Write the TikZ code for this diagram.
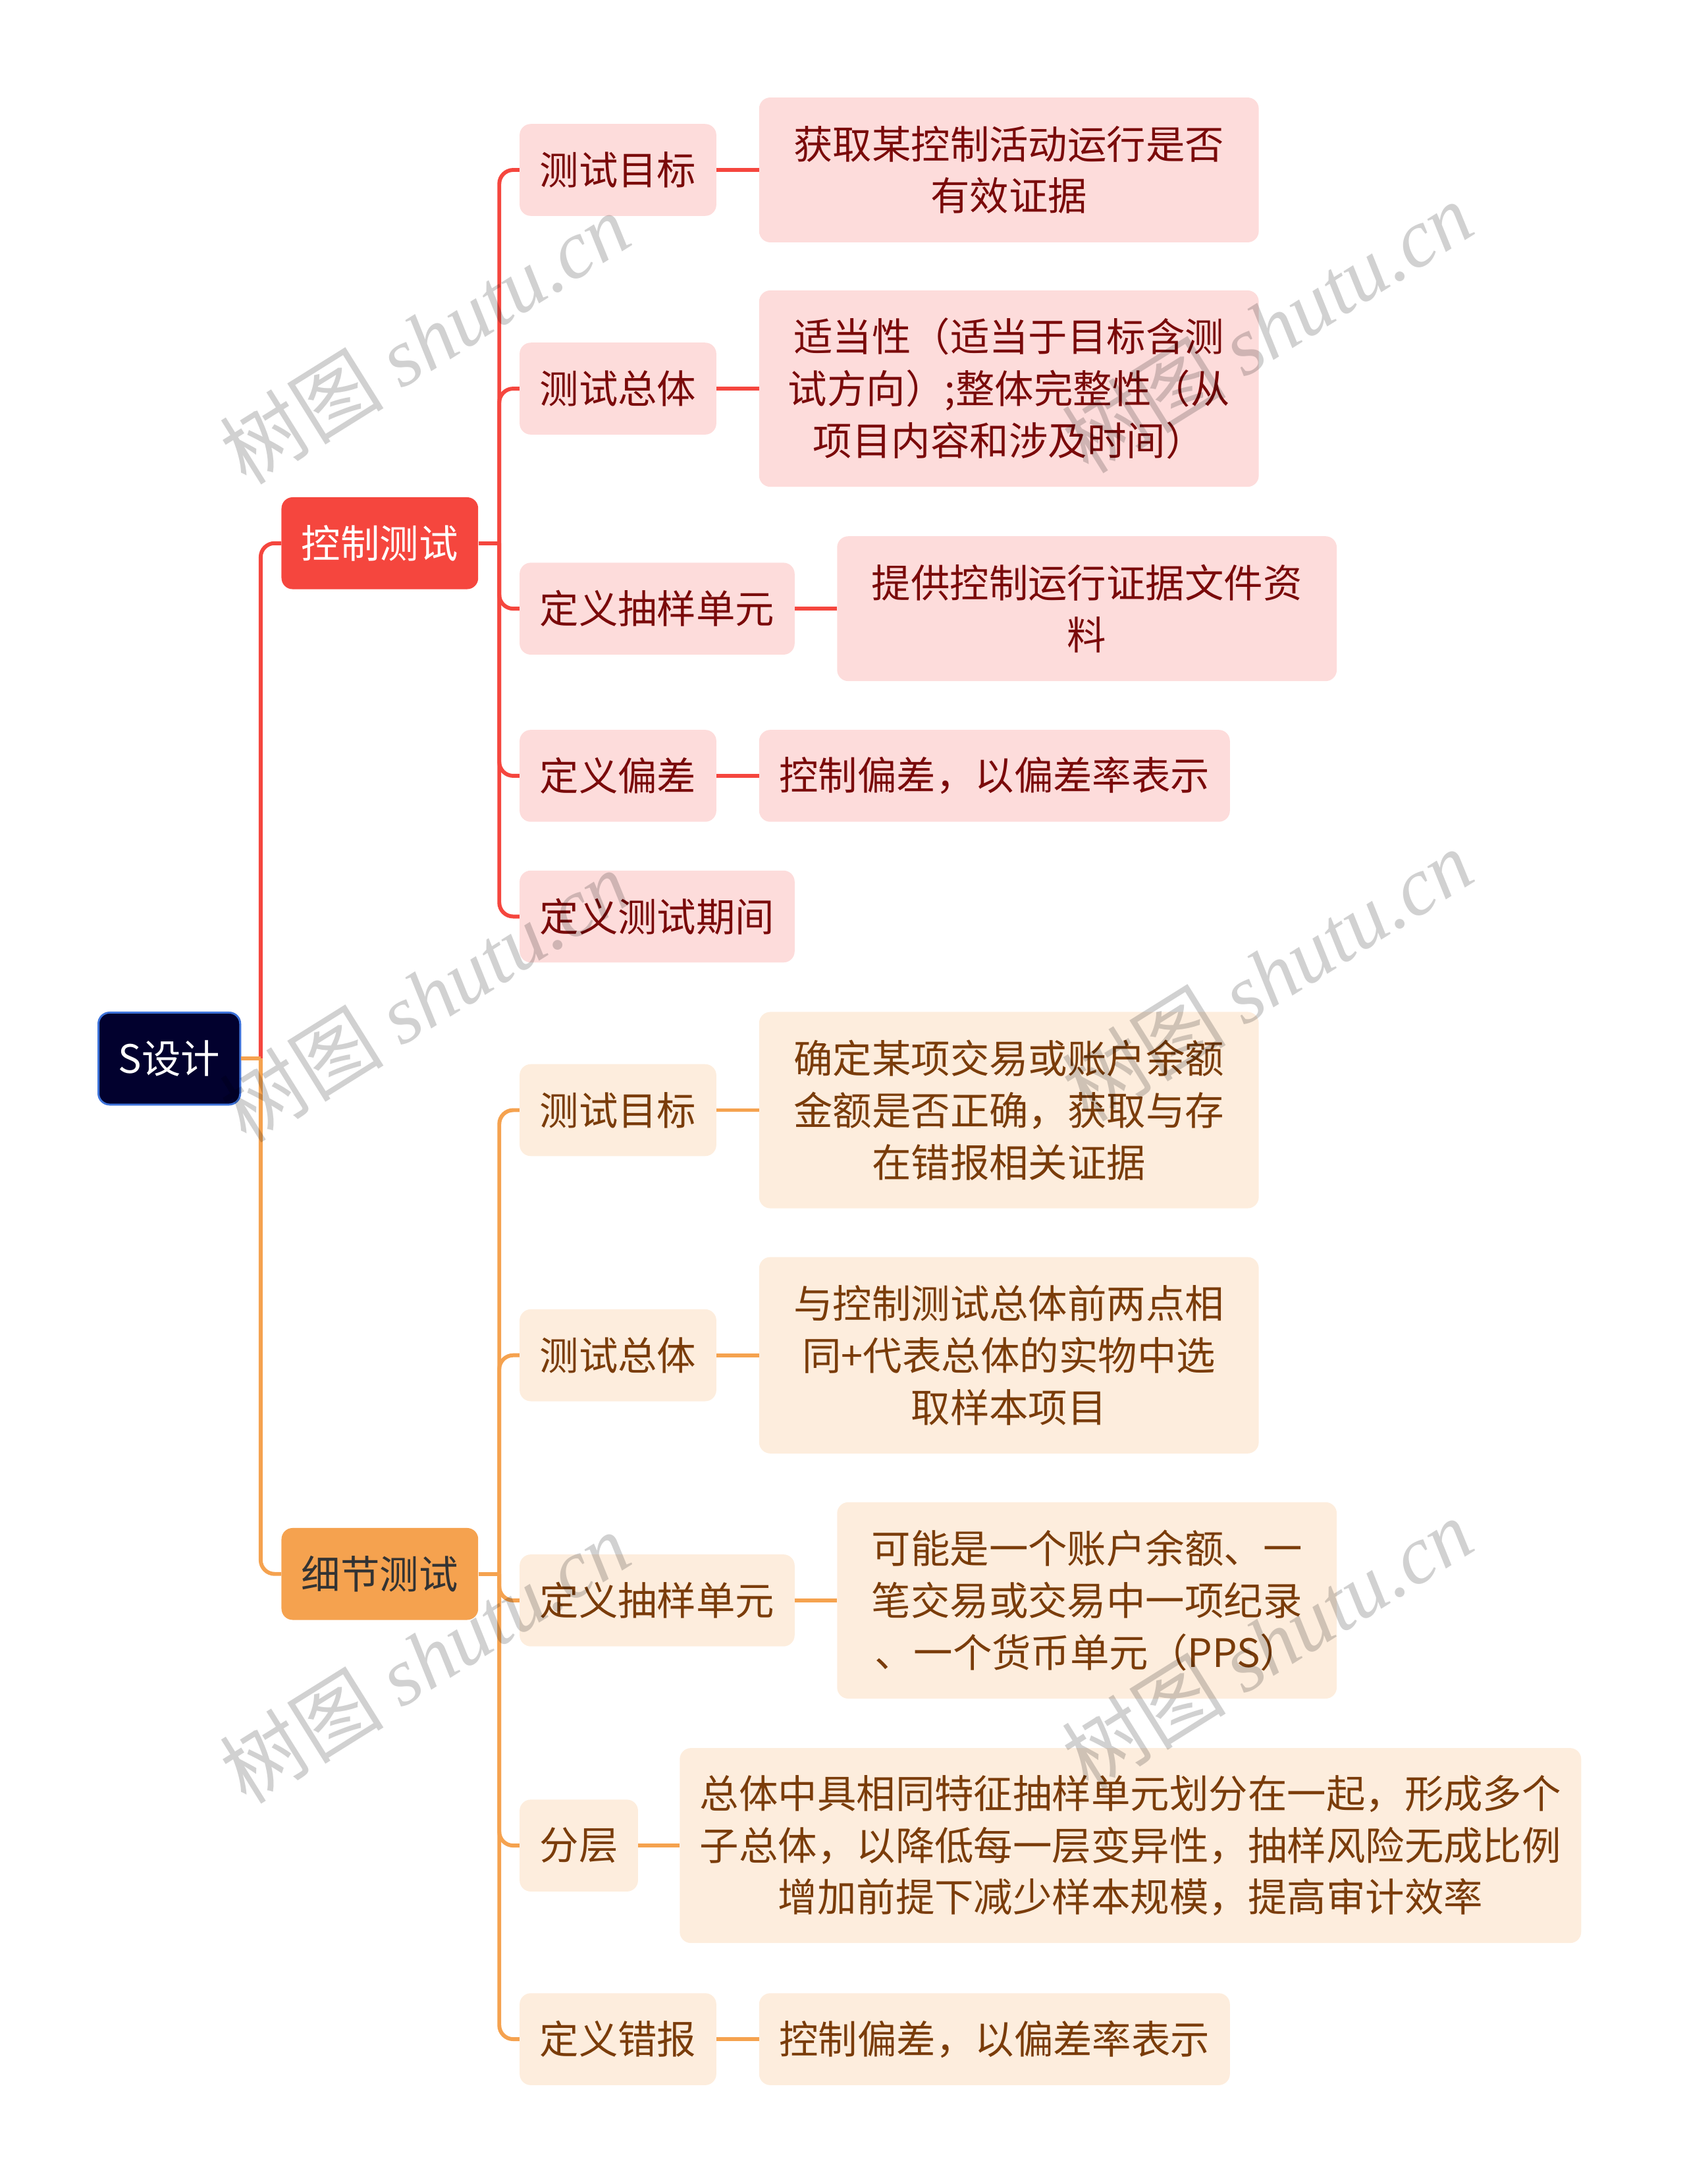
\documentclass[tikz,border=0pt]{standalone}
\usepackage{fontspec}
\setmainfont{Noto Sans CJK SC}
\newfontfamily\wmserif{Liberation Serif}
\usepackage{tikz}
\usetikzlibrary{positioning}
\usepackage{xcolor}

\definecolor{rootfill}{HTML}{02012E}
\definecolor{rootedge}{HTML}{3D72D9}
\definecolor{ctrlred}{HTML}{F5463E}
\definecolor{ctrlpink}{HTML}{FDDCDB}
\definecolor{ctrltext}{HTML}{7A0A0A}
\definecolor{detorange}{HTML}{F5A24F}
\definecolor{detpale}{HTML}{FDEDDD}
\definecolor{dettext}{HTML}{7A3C0A}
\definecolor{dettop}{HTML}{333333}

\tikzset{
  box/.style={rounded corners=0.4cm, inner xsep=0.72cm, inner ysep=0pt, minimum height=3.3cm,
    font=\fontsize{40}{53}\selectfont, align=center, anchor=west},
  rootbox/.style={box, fill=rootfill, draw=rootedge, line width=2pt, text=white},
  ctrlmain/.style={box, fill=ctrlred, text=white},
  detmain/.style={box, fill=detorange, text=dettop},
  ctrlsub/.style={box, fill=ctrlpink, text=ctrltext},
  detsub/.style={box, fill=detpale, text=dettext},
  twoline/.style={minimum height=5.2cm, text width=16.5cm},
  threeline/.style={minimum height=7.05cm, text width=16.5cm},
  redline/.style={draw=ctrlred, line width=4pt, rounded corners=0.5cm},
  orangeline/.style={draw=detorange, line width=4pt, rounded corners=0.5cm},
  wmark/.style={text=black, text opacity=0.18, rotate=32, font=\fontsize{84}{84}\selectfont}
}

\begin{document}
\begin{tikzpicture}[x=0.05cm, y=-0.05cm]
    \useasboundingbox (0,0) rectangle (1211,1568);

    % Root and main branches
    \node[rootbox] (root) at (70,760) {S设计};
    \node[ctrlmain] (ctrl) at (202,390) {控制测试};
    \node[detmain] (det) at (202,1130) {细节测试};

    % Control test items
    \node[ctrlsub] (ca) at (373,122) {测试目标};
    \node[ctrlsub] (cb) at (373,279) {测试总体};
    \node[ctrlsub] (cc) at (373,437) {定义抽样单元};
    \node[ctrlsub] (cd) at (373,557) {定义偏差};
    \node[ctrlsub] (ce) at (373,658) {定义测试期间};

    \node[ctrlsub, twoline] (cax) at (545,122) {获取某控制活动运行是否\\有效证据};
    \node[ctrlsub, threeline] (cbx) at (545,279) {适当性（适当于目标含测\\试方向）;整体完整性（从\\项目内容和涉及时间）};
    \node[ctrlsub, twoline] (ccx) at (601,437) {提供控制运行证据文件资\\料};
    \node[ctrlsub] (cdx) at (545,557) {控制偏差，以偏差率表示};

    % Detail test items
    \node[detsub] (da) at (373,797) {测试目标};
    \node[detsub] (db) at (373,973) {测试总体};
    \node[detsub] (dc) at (373,1149) {定义抽样单元};
    \node[detsub] (dd) at (373,1325) {分层};
    \node[detsub] (de) at (373,1464) {定义错报};

    \node[detsub, threeline] (dax) at (545,797) {确定某项交易或账户余额\\金额是否正确，获取与存\\在错报相关证据};
    \node[detsub, threeline] (dbx) at (545,973) {与控制测试总体前两点相\\同+代表总体的实物中选\\取样本项目};
    \node[detsub, threeline] (dcx) at (601,1149) {可能是一个账户余额、一\\笔交易或交易中一项纪录\\、一个货币单元（PPS）};
    \node[detsub, minimum height=7cm] (ddx) at (488,1325) {总体中具相同特征抽样单元划分在一起，形成多个\\子总体，以降低每一层变异性，抽样风险无成比例\\增加前提下减少样本规模，提高审计效率};
    \node[detsub] (dex) at (545,1464) {控制偏差，以偏差率表示};

    % Junctions
    \coordinate (rootj) at ([xshift=0.7cm]root.east);
    \coordinate (ctrlj) at ([xshift=0.75cm]ctrl.east);
    \coordinate (detj) at ([xshift=0.75cm]det.east);

    % Connectors
    \draw[redline] (rootj) |- (ctrl.west);
    \draw[orangeline] (root.east) -- (rootj);
    \draw[orangeline] (rootj) |- (det.west);

    \draw[redline] (ctrl.east) -- (ctrlj);
    \draw[redline] (ctrlj) |- (ca.west);
    \draw[redline] (ctrlj) |- (cb.west);
    \draw[redline] (ctrlj) |- (cc.west);
    \draw[redline] (ctrlj) |- (cd.west);
    \draw[redline] (ctrlj) |- (ce.west);
    \draw[redline] (ca.east) -- (cax.west);
    \draw[redline] (cb.east) -- (cbx.west);
    \draw[redline] (cc.east) -- (ccx.west);
    \draw[redline] (cd.east) -- (cdx.west);

    \draw[orangeline] (det.east) -- (detj);
    \draw[orangeline] (detj) |- (da.west);
    \draw[orangeline] (detj) |- (db.west);
    \draw[orangeline] (detj) |- (dc.west);
    \draw[orangeline] (detj) |- (dd.west);
    \draw[orangeline] (detj) |- (de.west);
    \draw[orangeline] (da.east) -- (dax.west);
    \draw[orangeline] (db.east) -- (dbx.west);
    \draw[orangeline] (dc.east) -- (dcx.west);
    \draw[orangeline] (dd.east) -- (ddx.west);
    \draw[orangeline] (de.east) -- (dex.west);

    % Watermarks
    \node[wmark] (wm1) at (305,243) {树图 {\wmserif\itshape shutu.cn}};
    \node[wmark] (wm2) at (910,235) {树图 {\wmserif\itshape shutu.cn}};
    \node[wmark] (wm3) at (305,715) {树图 {\wmserif\itshape shutu.cn}};
    \node[wmark] (wm4) at (910,700) {树图 {\wmserif\itshape shutu.cn}};
    \node[wmark] (wm5) at (305,1190) {树图 {\wmserif\itshape shutu.cn}};
    \node[wmark] (wm6) at (910,1180) {树图 {\wmserif\itshape shutu.cn}};
\end{tikzpicture}
\end{document}
